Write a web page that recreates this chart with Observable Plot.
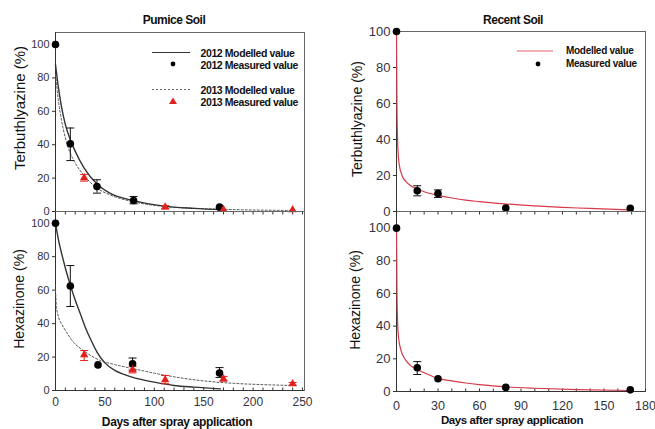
<!DOCTYPE html>
<html><head><meta charset="utf-8">
<script src="https://cdn.jsdelivr.net/npm/d3@7"></script>
<script src="https://cdn.jsdelivr.net/npm/@observablehq/plot@0.6"></script>
<style>
body{margin:0;background:#fff;}
#chart{position:relative;width:655px;height:429px;overflow:hidden;font-family:Arial,"Liberation Sans",sans-serif;background:#fff;}
#chart svg.layer{position:absolute;left:0;top:0;}
.lbl{position:absolute;white-space:nowrap;color:#111;line-height:1;}
.leg{position:absolute;white-space:nowrap;color:#111;font-weight:bold;line-height:1;transform:translateY(-50%);}
</style></head>
<body><div id="chart"></div>
<script>
// ---------- tick labels ----------
const pumiceXTicks = [0, 50, 100, 150, 200, 250];
const recentXTicks = [0, 30, 60, 90, 120, 150, 180];
const yTicks = [0, 20, 40, 60, 80, 100];
const pumiceMinor = [0,10,20,30,40,50,60,70,80,90,100,110,120,130,140,150,160,170,180,190,200,210,220,230,240,250];
const recentMinor = [0,10,20,30,40,50,60,70,80,90,100,110,120,130,140,150,160,170,180];

// ---------- Pumice soil, Terbuthylazine ----------
const pT12Days = [0, 15, 42, 79, 166];
const pT12Vals = [100, 40.5, 15, 6.6, 2.6];
const pT12Lo   = [null, 30.5, 11, 4.6, null];
const pT12Hi   = [null, 50, 19, 9, null];
const pT13Days = [29, 111, 170, 240];
const pT13Vals = [20.2, 2.6, 1.2, 1];
const pT13Lo   = [18.2, 1.6, null, null];
const pT13Hi   = [22.2, 3.6, null, null];
const pT12ModDays = [0, 3, 6, 10, 15, 20, 29, 42, 55, 79, 110, 140, 170];
const pT12ModVals = [88, 74, 63, 52, 43, 36, 26, 16.5, 11, 6.5, 3.2, 1.9, 1.1];
const pT13ModDays = [0, 3, 6, 10, 15, 20, 29, 42, 55, 79, 110, 140, 170, 200, 240];
const pT13ModVals = [82, 66, 55, 44, 35, 29, 21.5, 14, 10, 5.8, 3, 1.9, 1.3, 0.9, 0.6];

// ---------- Pumice soil, Hexazinone ----------
const pH12Days = [0, 15, 43, 78, 166];
const pH12Vals = [100, 62.5, 15.3, 16, 10.5];
const pH12Lo   = [null, 50.2, null, 12.2, 7.8];
const pH12Hi   = [null, 74.7, null, 19.4, 13.7];
const pH13Days = [29, 78, 111, 170, 240];
const pH13Vals = [21.3, 12.4, 6.4, 7, 4];
const pH13Lo   = [17.9, 10.5, 4, 5.6, 3.2];
const pH13Hi   = [23.9, 14.5, 9, 8.4, 4.8];
const pH12ModDays = [0, 3, 7, 11, 15, 20, 25, 30, 36, 42, 50, 60, 70, 80, 100, 120, 140, 167];
const pH12ModVals = [100, 90, 80, 71, 63, 54, 46, 38, 30, 23, 16.5, 12, 9.5, 7.5, 5, 3, 2, 1];
const pH13ModDays = [0, 1, 3, 6, 11, 18, 28, 45, 60, 79, 112, 146, 180, 210, 240];
const pH13ModVals = [60, 50, 44, 40, 35, 29, 24, 18, 15.5, 13, 9, 6, 4.3, 3.5, 3];

// ---------- Recent soil, Terbuthylazine ----------
const rTDays = [0, 15, 30, 79, 169];
const rTVals = [100, 11.5, 10, 1.9, 1.8];
const rTLo   = [null, 8.7, 7.8, null, null];
const rTHi   = [null, 14.3, 12, null, null];
const rTModDays = [0, 0.3, 1, 2, 4, 7, 10, 15, 20, 30, 40, 50, 60, 80, 100, 120, 140, 169];
const rTModVals = [100, 60, 35, 26, 20, 16.5, 14.5, 12.5, 11, 9, 7.5, 6.3, 5.5, 4.1, 3.1, 2.3, 1.7, 0.8];

// ---------- Recent soil, Hexazinone ----------
const rHDays = [0, 15, 30, 79, 169];
const rHVals = [100, 14.5, 7.8, 2.5, 1];
const rHLo   = [null, 10.4, null, null, null];
const rHHi   = [null, 18.3, null, null, null];
const rHModDays = [0, 0.3, 0.8, 1.5, 3, 6, 10, 15, 20, 30, 40, 50, 60, 80, 100, 130, 169];
const rHModVals = [100, 65, 42, 33, 26, 20, 16, 13.5, 11.5, 8, 6.5, 5.2, 4.2, 2.8, 2, 1.2, 0.6];

// ---------- helpers ----------
const pts = (days, vals, lo, hi) => days.map((d, i) => ({day: d, value: vals[i], lo: lo ? lo[i] : null, hi: hi ? hi[i] : null}));
const curve = (days, vals) => days.map((d, i) => ({day: d, value: vals[i]}));
const bars = arr => arr.filter(d => d.lo != null);

const capSym = {draw(ctx) { ctx.moveTo(-4, 0); ctx.lineTo(4, 0); }};
const tickDown = {draw(ctx) { ctx.moveTo(0, 0); ctx.lineTo(0, 3); }};
const tickUp = {draw(ctx) { ctx.moveTo(0, 0); ctx.lineTo(0, -3); }};

const RED = "#e3211c";
const chart = document.getElementById("chart");

function errMarks(arr, color) {
  const b = bars(arr);
  return [
    Plot.ruleX(b, {x: "day", y1: "lo", y2: "hi", stroke: color, strokeWidth: 1}),
    Plot.dot(b, {x: "day", y: "lo", symbol: capSym, stroke: color, fill: "none", strokeWidth: 1}),
    Plot.dot(b, {x: "day", y: "hi", symbol: capSym, stroke: color, fill: "none", strokeWidth: 1})
  ];
}

function layer({top, ml, mt, mb, mr, xDomain, yDomain, minor, xTicks, xFont, xPad, yFont, marks}) {
  const svg = Plot.plot({
    width: 655, height: 429,
    marginLeft: ml, marginRight: mr, marginTop: mt, marginBottom: mb,
    style: {background: "transparent", overflow: "visible", fontFamily: "Arial, 'Liberation Sans', sans-serif", color: "#333340"},
    x: {domain: xDomain, label: null, axis: xTicks ? undefined : null},
    y: {domain: yDomain, label: null},
    marks: [
      Plot.frame({stroke: "#666", strokeWidth: 1}),
      Plot.ruleX([0], {stroke: "#333", strokeWidth: 1}),
      Plot.ruleY([0], {stroke: "#333", strokeWidth: 1}),
      Plot.axisY(yTicks, {anchor: "left", tickSize: 3, tickPadding: 3, fontSize: yFont, label: null, stroke: "#333", fill: "#333340"}),
      Plot.dot(minor, {x: d => d, y: () => 0, symbol: top ? tickDown : tickUp, stroke: "#333", fill: "none", strokeWidth: 1}),
      ...(xTicks ? [Plot.axisX(xTicks, {anchor: "bottom", tickSize: 0, tickPadding: xPad, fontSize: xFont, label: null, fill: "#333340"})] : []),
      ...marks
    ]
  });
  svg.classList.add("layer");
  chart.appendChild(svg);
}

// ---------- Pumice Terbuthylazine ----------
const pT12 = pts(pT12Days, pT12Vals, pT12Lo, pT12Hi);
const pT13 = pts(pT13Days, pT13Vals, pT13Lo, pT13Hi);
layer({top: true, ml: 55, mr: 351, mt: 32, mb: 218, xDomain: [0, 252], yDomain: [0, 107.2], minor: pumiceMinor, yFont: 11,
  marks: [
    Plot.line(curve(pT13ModDays, pT13ModVals), {x: "day", y: "value", stroke: "#555", strokeWidth: 1, strokeDasharray: "2,2", curve: "monotone-x"}),
    Plot.line(curve(pT12ModDays, pT12ModVals), {x: "day", y: "value", stroke: "#333", strokeWidth: 1.4, curve: "monotone-x"}),
    ...errMarks(pT12, "#111"),
    ...errMarks(pT13, RED),
    Plot.dot(pT12, {x: "day", y: "value", r: 3.8, fill: "#000", stroke: "none"}),
    Plot.dot(pT13, {x: "day", y: "value", r: 3.1, symbol: "triangle", fill: RED, stroke: "none"})
  ]});

// ---------- Pumice Hexazinone ----------
const pH12 = pts(pH12Days, pH12Vals, pH12Lo, pH12Hi);
const pH13 = pts(pH13Days, pH13Vals, pH13Lo, pH13Hi);
layer({top: false, ml: 55, mr: 351, mt: 211, mb: 39, xDomain: [0, 252], yDomain: [0, 107], minor: pumiceMinor, xTicks: pumiceXTicks, xFont: 12, xPad: 7, yFont: 11,
  marks: [
    Plot.line(curve(pH13ModDays, pH13ModVals), {x: "day", y: "value", stroke: "#555", strokeWidth: 1, strokeDasharray: "2,2", curve: "monotone-x"}),
    Plot.line(curve(pH12ModDays, pH12ModVals), {x: "day", y: "value", stroke: "#333", strokeWidth: 1.4, curve: "monotone-x"}),
    ...errMarks(pH12, "#111"),
    ...errMarks(pH13, RED),
    Plot.dot(pH12, {x: "day", y: "value", r: 3.8, fill: "#000", stroke: "none"}),
    Plot.dot(pH13, {x: "day", y: "value", r: 3.1, symbol: "triangle", fill: RED, stroke: "none"})
  ]});

// ---------- Recent Terbuthylazine ----------
const rT = pts(rTDays, rTVals, rTLo, rTHi);
layer({top: true, ml: 396, mr: 10, mt: 31, mb: 218, xDomain: [0, 180], yDomain: [0, 100], minor: recentMinor, yFont: 13,
  marks: [
    Plot.line(curve(rTModDays, rTModVals), {x: "day", y: "value", stroke: "#d63a4a", strokeWidth: 1.2, curve: "monotone-x"}),
    ...errMarks(rT, "#111"),
    Plot.dot(rT, {x: "day", y: "value", r: 3.8, fill: "#000", stroke: "none"})
  ]});

// ---------- Recent Hexazinone ----------
const rH = pts(rHDays, rHVals, rHLo, rHHi);
layer({top: false, ml: 396, mr: 10, mt: 211, mb: 38, xDomain: [0, 180], yDomain: [0, 110.2], minor: recentMinor, xTicks: recentXTicks, xFont: 12.5, xPad: 10, yFont: 13,
  marks: [
    Plot.line(curve(rHModDays, rHModVals), {x: "day", y: "value", stroke: "#d63a4a", strokeWidth: 1.2, curve: "monotone-x"}),
    ...errMarks(rH, "#111"),
    Plot.dot(rH, {x: "day", y: "value", r: 3.8, fill: "#000", stroke: "none"})
  ]});

// ---------- texts ----------
function label(text, x, y, style, rot) {
  const d = document.createElement("div");
  d.className = "lbl";
  d.textContent = text;
  Object.assign(d.style, {left: x + "px", top: y + "px", transform: "translate(-50%,-50%)" + (rot ? " rotate(-90deg)" : "")}, style);
  chart.appendChild(d);
}
label("Pumice Soil", 174, 20, {fontSize: "12px", fontWeight: "bold", letterSpacing: "-0.5px"});
label("Recent Soil", 513, 20, {fontSize: "12px", fontWeight: "bold", letterSpacing: "-0.5px"});
label("Terbuthlyazine (%)", 19, 108, {fontSize: "15px"}, true);
label("Hexazinone (%)", 19, 299, {fontSize: "14px"}, true);
label("Terbuthlyazine (%)", 357, 119, {fontSize: "14px"}, true);
label("Hexazinone (%)", 355, 300, {fontSize: "14px"}, true);
label("Days after spray application", 177, 422, {fontSize: "12px", fontWeight: "bold", letterSpacing: "-0.35px"});
label("Days after spray application", 512, 421, {fontSize: "11.5px", fontWeight: "bold", letterSpacing: "-0.4px"});

// ---------- legends ----------
const legendSvg = document.createElementNS("http://www.w3.org/2000/svg", "svg");
legendSvg.setAttribute("width", 655); legendSvg.setAttribute("height", 429);
legendSvg.setAttribute("class", "layer");
legendSvg.innerHTML = `
  <line x1="152" x2="190" y1="52.5" y2="52.5" stroke="#333" stroke-width="1.2"/>
  <circle cx="173" cy="64" r="2.4" fill="#000"/>
  <line x1="152" x2="190" y1="89.5" y2="89.5" stroke="#666" stroke-width="1" stroke-dasharray="2,2"/>
  <path d="M173,97.5 L177,104 L169,104 Z" fill="${RED}"/>
  <line x1="517" x2="553" y1="51" y2="51" stroke="#e0606c" stroke-width="1.2"/>
  <circle cx="538" cy="64" r="2.4" fill="#000"/>`;
chart.appendChild(legendSvg);
function leg(text, x, y, size, ls) {
  const d = document.createElement("div");
  d.className = "leg";
  d.textContent = text;
  Object.assign(d.style, {left: x + "px", top: y + "px", fontSize: size + "px", letterSpacing: ls + "px"});
  chart.appendChild(d);
}
leg("2012 Modelled value", 200.5, 52.5, 10.5, -0.4);
leg("2012 Measured value", 200.5, 64.5, 10.5, -0.4);
leg("2013 Modelled value", 200.5, 89.5, 10.5, -0.4);
leg("2013 Measured value", 200.5, 101.5, 10.5, -0.4);
leg("Modelled value", 566, 51, 10, -0.3);
leg("Measured value", 566, 64, 10, -0.3);
</script></body></html>
